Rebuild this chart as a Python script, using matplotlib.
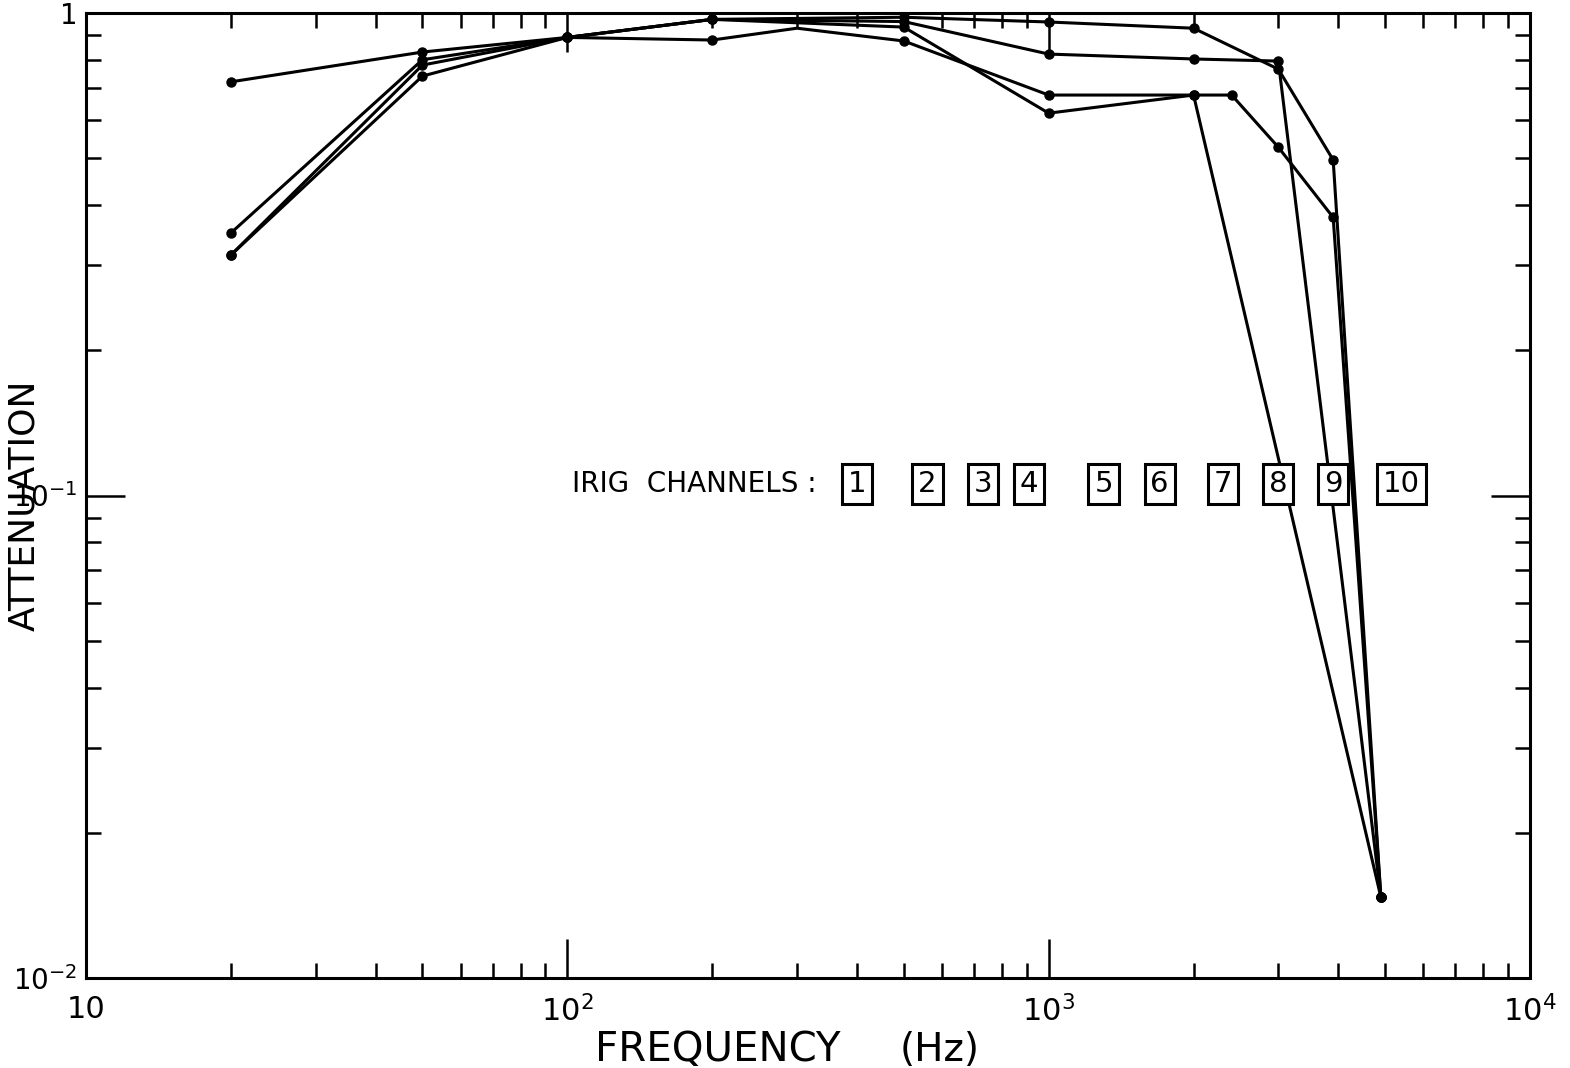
import matplotlib
matplotlib.use("Agg")
import matplotlib.pyplot as plt
from matplotlib.ticker import LogLocator, NullFormatter, FixedLocator

plt.rcParams['font.family'] = ['DejaVu Sans']
plt.rcParams['mathtext.default'] = 'regular'

# ---- data ----
freq_a = [20, 50, 100, 200, 500, 1000, 2000, 3000, 3900, 4900]
att_a = [0.72, 0.83, 0.89, 0.97, 0.98, 0.958, 0.93, 0.765, 0.496, 0.0147]

freq_b = [20, 50, 100, 200, 500, 1000, 2000, 3000, 4900]
att_b = [0.35, 0.80, 0.89, 0.97, 0.96, 0.822, 0.803, 0.795, 0.0147]

freq_c = [20, 50, 100, 200, 300, 500, 1000, 2000, 2400, 3000, 3900, 4900]
att_c = [0.315, 0.78, 0.89, 0.879, 0.93, 0.875, 0.676, 0.676, 0.676, 0.527, 0.377, 0.0147]

freq_d = [20, 50, 100, 200, 500, 1000, 2000, 4900]
att_d = [0.315, 0.74, 0.89, 0.97, 0.935, 0.62, 0.676, 0.0147]

series = [(freq_a, att_a), (freq_b, att_b), (freq_c, att_c), (freq_d, att_d)]

channel_labels = ['1', '2', '3', '4', '5', '6', '7', '8', '9', '10']
channel_freqs = [400, 560, 730, 910, 1300, 1700, 2300, 3000, 3900, 5400]

x_ticks = [10, 100, 1000, 10000]
x_tick_labels = ['10', '$10^2$', '$10^3$', '$10^4$']
y_ticks = [0.01, 0.1, 1]
y_tick_labels = ['$10^{-2}$', '$10^{-1}$', '1']

# ---- figure ----
fig = plt.figure(figsize=(15.70, 10.68), dpi=100)
ax = fig.add_axes([86 / 1570, 90 / 1068, 1444 / 1570, 965 / 1068])
ax.set_xscale('log')
ax.set_yscale('log')
ax.set_xlim(10, 1e4)
ax.set_ylim(1e-2, 1)

for fx, fy in series:
    # the 300 Hz vertex has no visible dot in the original
    marks = [i for i, f in enumerate(fx) if f != 300]
    ax.plot(fx, fy, color='black', lw=2.2, marker='o', ms=6.5, markevery=marks,
            markerfacecolor='black', markeredgecolor='black', solid_joinstyle='round')

for sp in ax.spines.values():
    sp.set_linewidth(2.2)
    sp.set_color('black')

ax.xaxis.set_major_locator(FixedLocator(x_ticks))
ax.yaxis.set_major_locator(FixedLocator(y_ticks))
ax.set_xticklabels(x_tick_labels)
ax.set_yticklabels(y_tick_labels)
ax.xaxis.set_minor_locator(LogLocator(base=10, subs=range(2, 10)))
ax.yaxis.set_minor_locator(LogLocator(base=10, subs=range(2, 10)))
ax.xaxis.set_minor_formatter(NullFormatter())
ax.yaxis.set_minor_formatter(NullFormatter())

ax.tick_params(which='both', direction='in', top=True, right=True, color='black')
ax.tick_params(which='major', length=28, width=1.8, labelsize=22, pad=12)
ax.tick_params(axis='y', which='major', pad=6, labelsize=20)
ax.tick_params(which='minor', length=11, width=1.8)

# axis titles
fig.text(718 / 1570, 1 - 1050 / 1068, 'FREQUENCY', fontsize=29, ha='center', va='center')
fig.text(940 / 1570, 1 - 1050 / 1068, '(Hz)', fontsize=28, ha='center', va='center')
fig.text(24 / 1570, 1 - 505 / 1068, 'ATTENUATION', rotation=90, fontsize=26,
         ha='center', va='center')

# IRIG channel legend
y_txt = 0.1057
ax.text(330, y_txt, 'IRIG  CHANNELS :', fontsize=20, ha='right', va='center')
for lab, fc in zip(channel_labels, channel_freqs):
    ax.text(fc, y_txt, lab, fontsize=21, ha='center', va='center',
            bbox=dict(boxstyle='square,pad=0.2', facecolor='white',
                      edgecolor='black', linewidth=2.2))

fig.savefig('out.png', dpi=100, facecolor='white')
